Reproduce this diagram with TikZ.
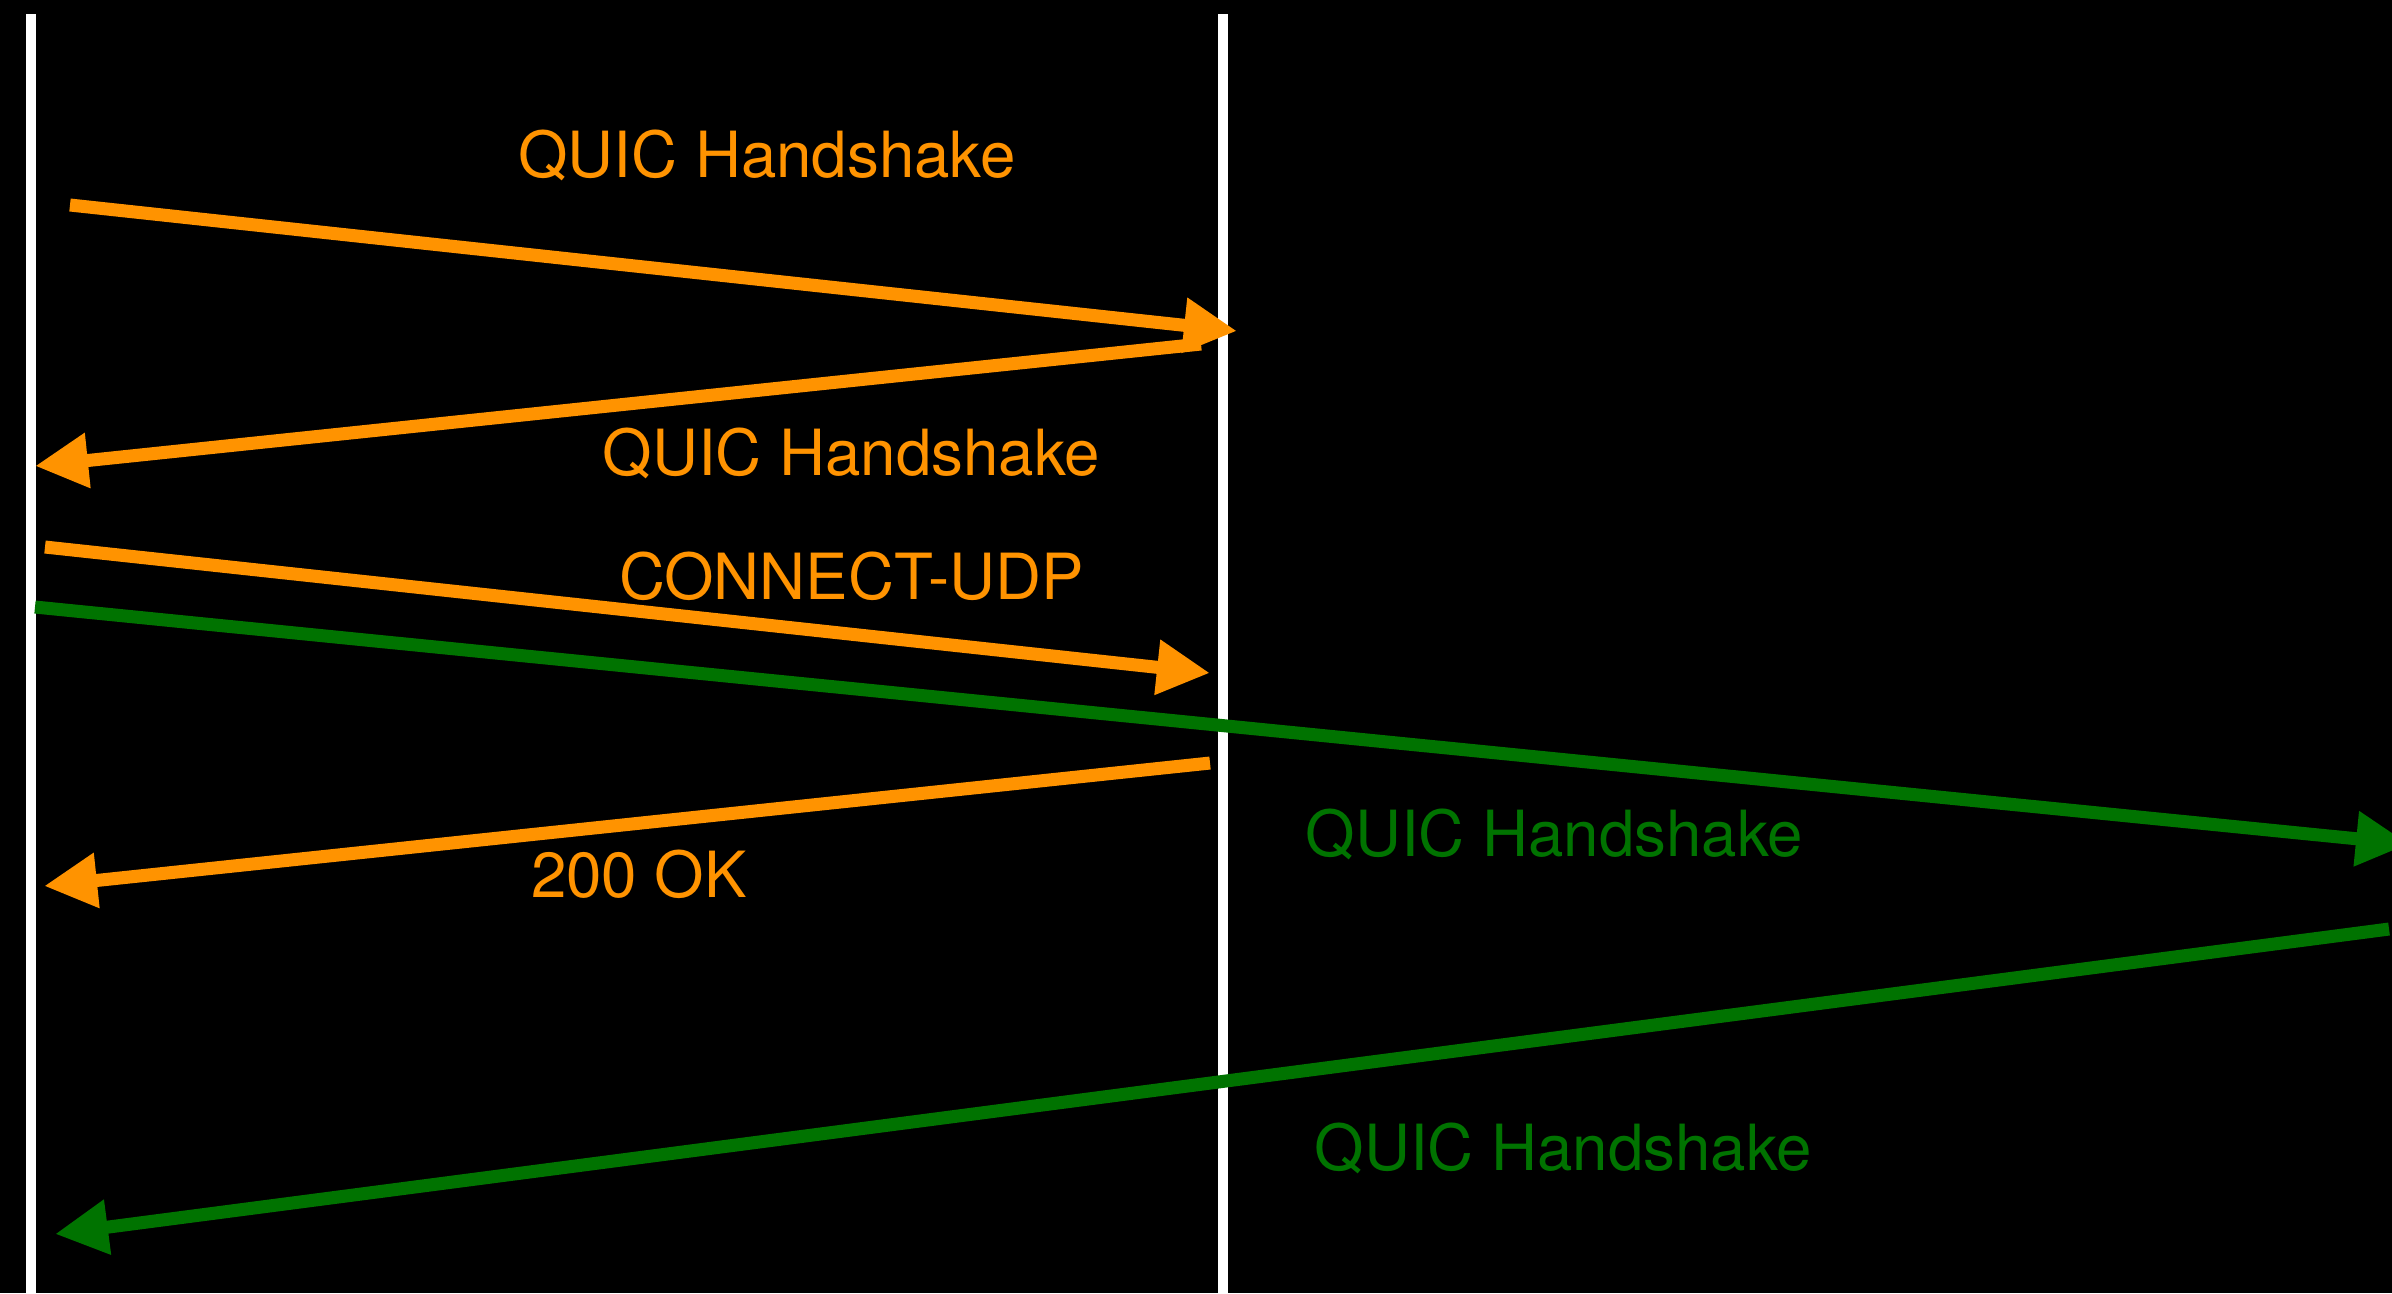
\documentclass[tikz,border=0pt]{standalone}
\usepackage{fontspec}
\setmainfont{TeX Gyre Heros}
\usetikzlibrary{arrows.meta}
\definecolor{quicorange}{RGB}{255,147,0}
\definecolor{quicgreen}{RGB}{0,115,0}
\tikzset{
  lifeline/.style={draw=white, line width=0.1cm},
  msg/.style={line width=0.13cm, -{Triangle[length=0.53cm, width=0.52cm]}},
  msglabel/.style={anchor=base, inner sep=0pt, font=\fontsize{18.1pt}{22pt}\selectfont}
}
\begin{document}
\begin{tikzpicture}[x=0.01cm, y=-0.01cm]
  \useasboundingbox (0,0) rectangle (2392,1293);
  \clip (0,0) rectangle (2392,1293);
  \fill[black] (0,0) rectangle (2392,1293);
  % lifelines
  \coordinate (client top) at (31,14);
  \coordinate (client bot) at (31,1293);
  \coordinate (proxy top) at (1222.5,14);
  \coordinate (proxy bot) at (1222.5,1293);
  \draw[lifeline] (client top) -- (client bot);
  \draw[lifeline] (proxy top) -- (proxy bot);
  % message ends
  \coordinate (hs1 a) at (70,205);    \coordinate (hs1 b) at (1237,331);
  \coordinate (hs2 a) at (1201,344);  \coordinate (hs2 b) at (35,466);
  \coordinate (cu a) at (45,547);     \coordinate (cu b) at (1210,673);
  \coordinate (ok a) at (1210,763);   \coordinate (ok b) at (44,886);
  \coordinate (ths1 a) at (35,607);   \coordinate (ths1 b) at (2409,844);
  \coordinate (ths2 a) at (2389,929); \coordinate (ths2 b) at (55,1234);
  % proxy handshake and request
  \draw[msg, quicorange] (hs1 a) -- (hs1 b);
  \draw[msg, quicorange] (hs2 a) -- (hs2 b);
  \draw[msg, quicorange] (cu a) -- (cu b);
  \draw[msg, quicorange] (ok a) -- (ok b);
  % tunnelled handshake to target
  \draw[msg, quicgreen] (ths1 a) -- (ths1 b);
  \draw[msg, quicgreen] (ths2 a) -- (ths2 b);
  % labels
  \node[msglabel, text=quicorange] (hs1 label) at (767,177) {QUIC Handshake};
  \node[msglabel, text=quicorange] (hs2 label) at (851.5,475) {QUIC Handshake};
  \node[msglabel, text=quicorange] (cu label) at (851.5,599) {CONNECT-UDP};
  \node[msglabel, text=quicorange] (ok label) at (639,897) {200 OK};
  \node[msglabel, text=quicgreen] (ths1 label) at (1554.5,856) {QUIC Handshake};
  \node[msglabel, text=quicgreen] (ths2 label) at (1563.5,1170) {QUIC Handshake};
\end{tikzpicture}
\end{document}
